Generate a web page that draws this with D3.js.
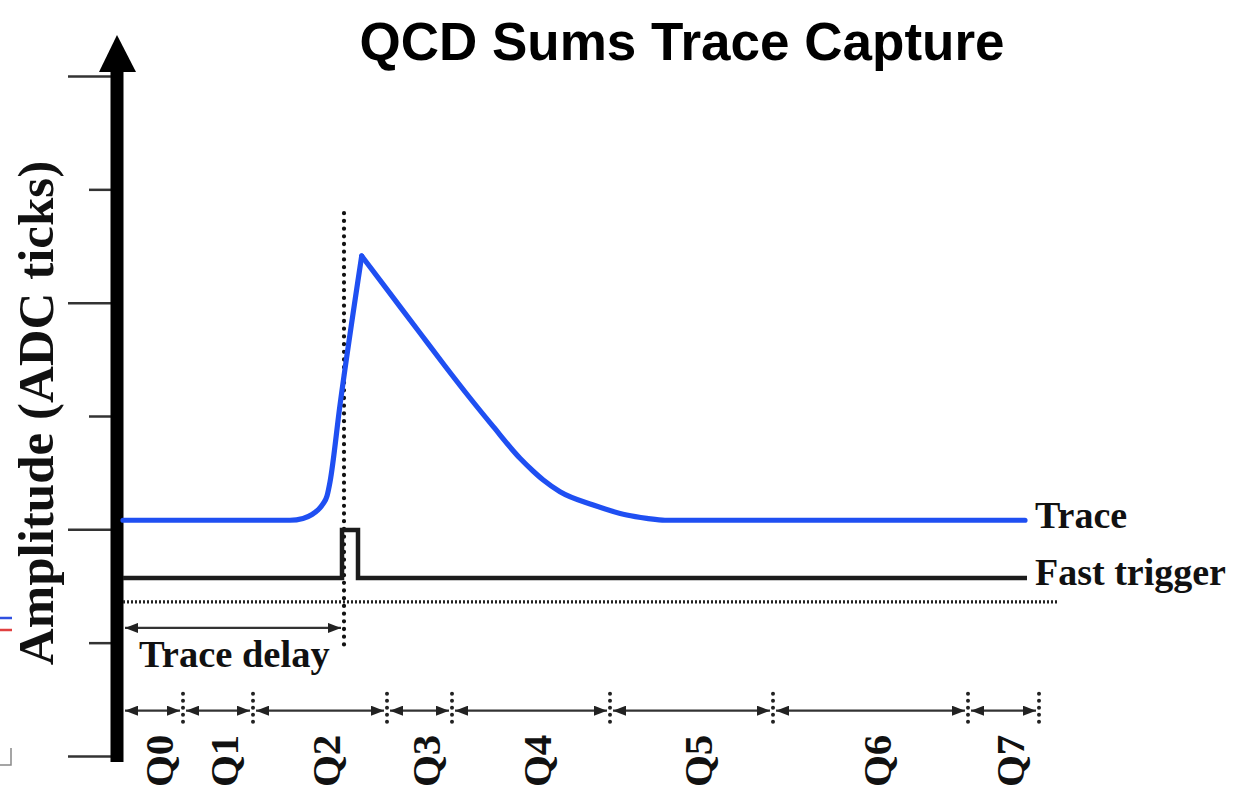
<!DOCTYPE html>
<html>
<head>
<meta charset="utf-8">
<script src="https://cdn.jsdelivr.net/npm/d3@7"></script>
<style>
  body { margin: 0; background: #fff; }
  svg { display: block; }
  .serif { font-family: "Liberation Serif", "Times New Roman", serif; font-weight: bold; fill: #111; }
</style>
</head>
<body>
<script>
// time in ADC samples, amplitude in ADC ticks
var traceT = [0, 33.4, 36, 37.8, 39, 40, 40.8, 41.4, 43.4, 47.74,
              53.4, 59.4, 64.4, 68.4, 74.06, 79.4, 82, 84.06, 87.4, 94.06, 100.74, 104.74, 108.4, 180.4];
var traceV = [208, 208, 209.6, 213.1, 217.1, 222.4, 229.4, 241.8, 309.7, 441.2,
              408.2, 373.2, 344.1, 321.4, 290.6, 262.7, 251.5, 243.5, 233.2, 221.5, 212.6, 209.7, 208, 208];
var peakIndex = 9;

var trigT = [0, 43.8, 47, 180.8];
var trigV = [157, 199.4, 157, 157];

var triggerAt = 44.2;          // dotted marker, end of trace delay
var triggerSpan = [92, 479];   // vertical extent of that marker
var floorLevel = 136;          // dotted horizontal level
var floorEnd = 187;
var delayLevel = 113;          // trace delay arrow level
var qLevel = 40;               // Q intervals arrow level

var qNames = ["Q0", "Q1", "Q2", "Q3", "Q4", "Q5", "Q6", "Q7"];
var qEdges = [0, 12, 26, 52.8, 65.8, 97.4, 130, 169, 183.2];

var majorTicks = [0, 200, 400, 600];
var minorTicks = [100, 300, 500];

var W = 1238, H = 788;

var svg = d3.select("body").append("svg")
    .attr("width", W)
    .attr("height", H);

var x = d3.scaleLinear().domain([0, 184]).range([123, 1043]);
var y = d3.scaleLinear().domain([0, 600]).range([756, 76]);

// arrow heads
var defs = svg.append("defs");
function arrowMarker(id, color, len, half) {
    defs.append("marker")
        .attr("id", id)
        .attr("markerUnits", "userSpaceOnUse")
        .attr("viewBox", "0 " + (-half) + " " + len + " " + (2 * half))
        .attr("refX", len).attr("refY", 0)
        .attr("markerWidth", len).attr("markerHeight", 2 * half)
        .attr("orient", "auto-start-reverse")
      .append("path")
        .attr("d", "M0," + (-half) + "L" + len + ",0L0," + half + "Z")
        .attr("fill", color);
}
arrowMarker("head", "#222", 13, 5);

// title
svg.append("text")
    .attr("x", 682)
    .attr("y", 60)
    .attr("text-anchor", "middle")
    .style("font-family", "'Liberation Sans', Arial, sans-serif")
    .style("font-weight", "bold")
    .style("font-size", "53px")
    .text("QCD Sums Trace Capture");

// y ticks, major and minor
function tickStyle(g) {
    g.select(".domain").remove();
    g.selectAll("line").attr("stroke", "#333").attr("stroke-width", 2.5);
}
svg.append("g")
    .attr("transform", "translate(111,0)")
    .call(d3.axisLeft(y).tickValues(majorTicks).tickSize(43).tickFormat(""))
    .call(tickStyle);
svg.append("g")
    .attr("transform", "translate(111,0)")
    .call(d3.axisLeft(y).tickValues(minorTicks).tickSize(22).tickFormat(""))
    .call(tickStyle);

// thick y axis with arrow
var axisX = 117;
svg.append("line")
    .attr("x1", axisX).attr("x2", axisX)
    .attr("y1", y(0) + 6).attr("y2", y(600) - 6)
    .attr("stroke", "#000")
    .attr("stroke-width", 13);
svg.append("path")
    .attr("d", "M" + axisX + "," + (y(600) - 41) +
               "L" + (axisX + 19) + "," + (y(600) - 4) +
               "L" + (axisX - 18) + "," + (y(600) - 4) + "Z")
    .attr("fill", "#000");

// y label
svg.append("text")
    .attr("class", "serif")
    .attr("transform", "translate(53," + ((y(0) + y(600)) / 2 - 3) + ") rotate(-90)")
    .attr("text-anchor", "middle")
    .style("font-size", "51px")
    .text("Amplitude (ADC ticks)");

// dotted floor line
svg.append("line")
    .attr("x1", x(0)).attr("x2", x(floorEnd))
    .attr("y1", y(floorLevel)).attr("y2", y(floorLevel))
    .attr("stroke", "#222")
    .attr("stroke-width", 3.2)
    .attr("stroke-dasharray", "2,2");

// dotted trigger marker
svg.append("line")
    .attr("x1", x(triggerAt)).attr("x2", x(triggerAt))
    .attr("y1", y(triggerSpan[1])).attr("y2", y(triggerSpan[0]))
    .attr("stroke", "#111")
    .attr("stroke-width", 4.2)
    .attr("stroke-linecap", "round")
    .attr("stroke-dasharray", "0.1,7.6");

// fast trigger
var trigData = trigT.map(function(t, i) { return [t, trigV[i]]; });
svg.append("path")
    .datum(trigData)
    .attr("d", d3.line()
        .x(function(d) { return x(d[0]); })
        .y(function(d) { return y(d[1]); })
        .curve(d3.curveStepAfter))
    .attr("fill", "none")
    .attr("stroke", "#1c1c1c")
    .attr("stroke-width", 4.5);

// trace, rise and fall drawn separately so the peak stays sharp
var traceData = traceT.map(function(t, i) { return [t, traceV[i]]; });
var traceLine = d3.line()
    .x(function(d) { return x(d[0]); })
    .y(function(d) { return y(d[1]); })
    .curve(d3.curveMonotoneX);
[traceData.slice(0, peakIndex + 1), traceData.slice(peakIndex)].forEach(function(part) {
    svg.append("path")
        .datum(part)
        .attr("d", traceLine)
        .attr("fill", "none")
        .attr("stroke", "#1f4ff2")
        .attr("stroke-width", 5.2)
        .attr("stroke-linecap", "round")
        .attr("stroke-linejoin", "round");
});

// line labels
svg.append("text")
    .attr("class", "serif")
    .attr("x", x(traceT[traceT.length - 1]) + 10)
    .attr("y", y(traceV[traceV.length - 1]))
    .attr("dy", "0.21em")
    .style("font-size", "38px")
    .text("Trace");
svg.append("text")
    .attr("class", "serif")
    .attr("x", x(trigT[trigT.length - 1]) + 8)
    .attr("y", y(trigV[trigV.length - 1]))
    .attr("dy", "0.19em")
    .style("font-size", "38px")
    .text("Fast trigger");

// trace delay arrow
svg.append("line")
    .attr("x1", x(0) + 2).attr("x2", x(triggerAt) - 3)
    .attr("y1", y(delayLevel)).attr("y2", y(delayLevel))
    .attr("stroke", "#333")
    .attr("stroke-width", 2.2)
    .attr("marker-start", "url(#head)")
    .attr("marker-end", "url(#head)");
svg.append("text")
    .attr("class", "serif")
    .attr("x", x(0) + 16)
    .attr("y", y(delayLevel) + 39)
    .style("font-size", "38.5px")
    .text("Trace delay");

// Q intervals
var qData = qNames.map(function(name, i) { return {name: name, a: qEdges[i], b: qEdges[i + 1]}; });

svg.selectAll(".qarrow")
    .data(qData)
  .enter().append("line")
    .attr("class", "qarrow")
    .attr("x1", function(d) { return x(d.a) + (d.a === 0 ? 2 : 3); })
    .attr("x2", function(d) { return x(d.b) - 3; })
    .attr("y1", y(qLevel)).attr("y2", y(qLevel))
    .attr("stroke", "#333")
    .attr("stroke-width", 2.2)
    .attr("marker-start", "url(#head)")
    .attr("marker-end", "url(#head)");

svg.selectAll(".qsep")
    .data(qEdges.slice(1))
  .enter().append("line")
    .attr("class", "qsep")
    .attr("x1", function(d) { return x(d); })
    .attr("x2", function(d) { return x(d); })
    .attr("y1", y(qLevel) - 17).attr("y2", y(qLevel) + 18)
    .attr("stroke", "#222")
    .attr("stroke-width", 4)
    .attr("stroke-linecap", "round")
    .attr("stroke-dasharray", "0.1,6.9");

svg.selectAll(".qlabel")
    .data(qData)
  .enter().append("text")
    .attr("class", "serif qlabel")
    .attr("transform", function(d) {
        return "translate(" + ((x(d.a) + x(d.b)) / 2 + 6) + "," + (y(qLevel) + 24) + ") rotate(-90)";
    })
    .attr("text-anchor", "end")
    .attr("dy", "0.35em")
    .style("font-size", "41px")
    .text(function(d) { return d.name; });

// bits of a neighbouring figure cut off at the left edge
svg.append("line").attr("x1", 0).attr("x2", 12).attr("y1", 618).attr("y2", 618)
    .attr("stroke", "#3050e0").attr("stroke-width", 2.5);
svg.append("line").attr("x1", 0).attr("x2", 12).attr("y1", 630).attr("y2", 630)
    .attr("stroke", "#e04040").attr("stroke-width", 2.5);
svg.append("path").attr("d", "M11,748V765H0")
    .attr("fill", "none").attr("stroke", "#888").attr("stroke-width", 1.5);
</script>
</body>
</html>
